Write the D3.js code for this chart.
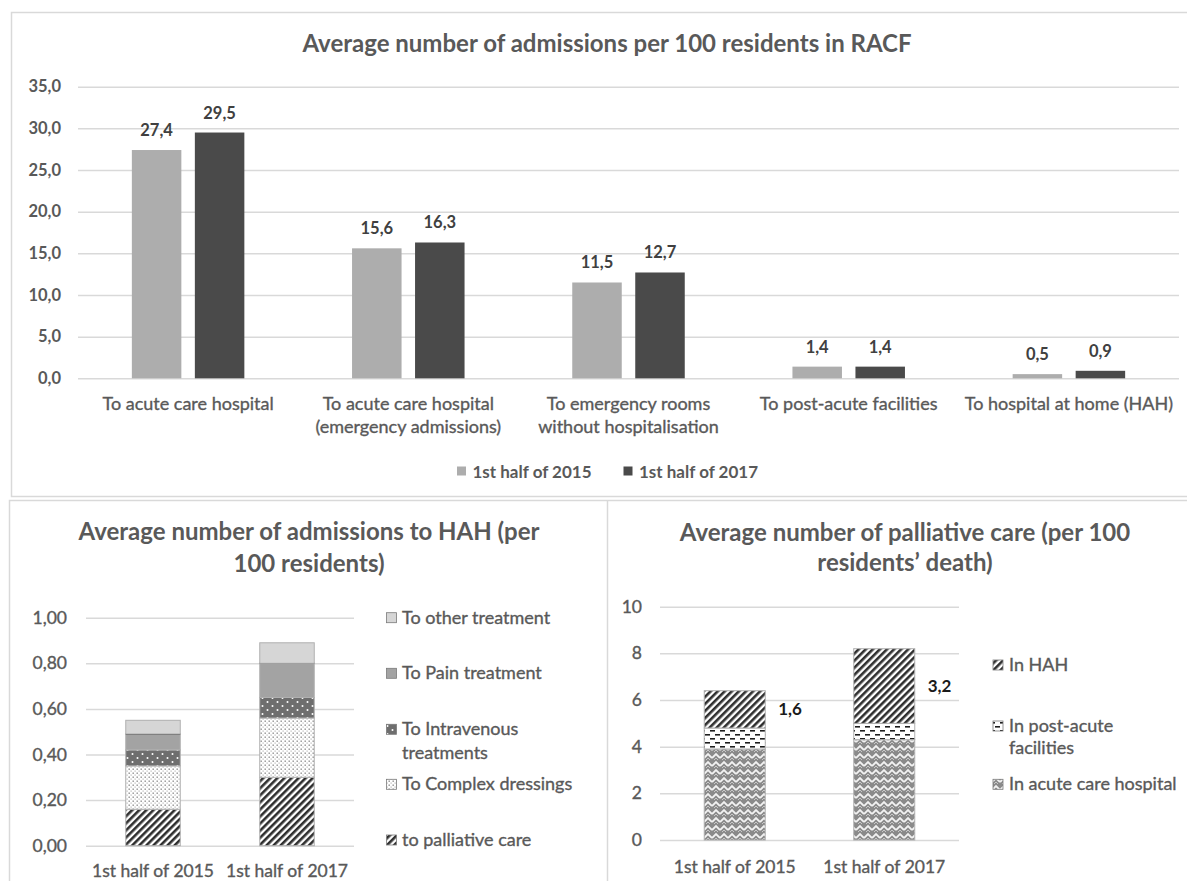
<!DOCTYPE html>
<html>
<head>
<meta charset="utf-8">
<script src="https://cdn.jsdelivr.net/npm/d3@7"></script>
<style>
  html, body { margin: 0; padding: 0; background: #ffffff; }
  svg { display: block; font-family: Lato, "Open Sans", "DejaVu Sans", sans-serif; }
</style>
</head>
<body>
<svg id="chart" width="1187" height="881"></svg>
<script>
// ---------------- DATA ----------------
const racfTitle = "Average number of admissions per 100 residents in RACF";
const racfCategories = [
  "To acute care hospital",
  "To acute care hospital\n(emergency admissions)",
  "To emergency rooms\nwithout hospitalisation",
  "To post-acute facilities",
  "To hospital at home (HAH)"
];
const racfSeries = ["1st half of 2015", "1st half of 2017"];
const racf2015 = [27.4, 15.6, 11.5, 1.4, 0.5];
const racf2017 = [29.5, 16.3, 12.7, 1.4, 0.9];
const racfTicks = [0, 5, 10, 15, 20, 25, 30, 35];

const hahTitle = "Average number of admissions to HAH (per\n100 residents)";
const hahPeriods = ["1st half of 2015", "1st half of 2017"];
const hahTypes = ["to palliative care", "To Complex dressings", "To Intravenous\ntreatments", "To Pain treatment", "To other treatment"];
const hahPalliative = [0.16, 0.30];
const hahDressings = [0.19, 0.26];
const hahIntravenous = [0.07, 0.09];
const hahPain = [0.07, 0.15];
const hahOther = [0.06, 0.09];
const hahTicks = [0, 0.2, 0.4, 0.6, 0.8, 1.0];

const palTitle = "Average number of palliative care (per 100\nresidents\u2019 death)";
const palPeriods = ["1st half of 2015", "1st half of 2017"];
const palPlaces = ["In acute care hospital", "In post-acute\nfacilities", "In HAH"];
const palAcute = [3.9, 4.3];
const palPostAcute = [0.9, 0.7];
const palHAH = [1.6, 3.2];
const palTicks = [0, 2, 4, 6, 8, 10];

// ---------------- SETUP ----------------
const locale = d3.formatLocale({decimal: ",", thousands: ".", grouping: [3], currency: ["", "\u20ac"]});
const f1 = locale.format(".1f"), f2 = locale.format(".2f"), f0 = locale.format("d");
const svg = d3.select("#chart");
const GRID = "#d9d9d9", TXT = "#595959";
const FONT = "Lato, 'Open Sans', sans-serif";

function multiline(sel, text, lh) {
  const lines = text.split("\n");
  sel.text(null);
  lines.forEach((l, i) => sel.append("tspan").attr("x", sel.attr("x")).attr("dy", i === 0 ? 0 : lh).text(l));
}
// slightly heavier regular text (Calibri-like rendering)
function heavy(sel, color) {
  return sel.attr("stroke", color).attr("stroke-width", 0.35);
}

// patterns
const defs = svg.append("defs");
function pat(id, w, h, bg, draw, transform) {
  const p = defs.append("pattern").attr("id", id).attr("patternUnits", "userSpaceOnUse")
    .attr("width", w).attr("height", h);
  if (transform) p.attr("patternTransform", transform);
  p.append("rect").attr("width", w).attr("height", h).attr("fill", bg);
  draw(p);
}
pat("pStripe", 5, 5, "#ffffff", p => p.append("rect").attr("width", 2.6).attr("height", 5).attr("fill", "#2e2e2e"), "rotate(45)");
pat("pDots", 4, 4, "#ffffff", p => {
  p.append("rect").attr("x", 0.5).attr("y", 0.5).attr("width", 1.4).attr("height", 1.4).attr("fill", "#8c8c8c");
  p.append("rect").attr("x", 2.5).attr("y", 2.5).attr("width", 1.2).attr("height", 1.2).attr("fill", "#b5b5b5");
});
pat("pIV", 10, 8, "#6e6e6e", p => {
  p.append("circle").attr("cx", 2.5).attr("cy", 2).attr("r", 1).attr("fill", "#ffffff");
  p.append("circle").attr("cx", 7.5).attr("cy", 6).attr("r", 1).attr("fill", "#ffffff");
});
pat("pDash", 10, 8, "#ffffff", p => {
  p.append("rect").attr("x", 0).attr("y", 2).attr("width", 5).attr("height", 1.6).attr("fill", "#1e1e1e");
  p.append("rect").attr("x", 5).attr("y", 6).attr("width", 5).attr("height", 1.6).attr("fill", "#1e1e1e");
});
pat("pWeave", 8, 8, "#8a8a8a", p => {
  p.append("path").attr("d", "M0,6 L4,2 L8,6").attr("fill", "none").attr("stroke", "#f2f2f2").attr("stroke-width", 1.8);
  p.append("path").attr("d", "M2,8 L4,6 M6,8 L4,6").attr("fill", "none").attr("stroke", "#c8c8c8").attr("stroke-width", 1);
});

// ---------------- PANEL BORDERS ----------------
svg.append("path").attr("d", "M1190,12.5 H11.5 V496.5 H1190").attr("fill", "none").attr("stroke", GRID).attr("stroke-width", 1.5);
svg.append("path").attr("d", "M9.5,885 V500.5 H1190").attr("fill", "none").attr("stroke", GRID).attr("stroke-width", 1.5);
svg.append("path").attr("d", "M607.5,500.5 V885").attr("fill", "none").attr("stroke", GRID).attr("stroke-width", 1.5);

// ---------------- TOP CHART ----------------
(function () {
  const x0 = d3.scaleBand().domain(racfCategories).range([78, 1179]);
  const y = d3.scaleLinear().domain([0, 35]).range([378.3, 86.7]);
  const barW = 49.5, off = 31.5;
  const g = svg.append("g");

  svg.append("text").attr("x", 607).attr("y", 51.5).attr("text-anchor", "middle")
    .attr("font-size", 24).attr("font-weight", 700).attr("fill", TXT).text(racfTitle);

  const ax = d3.axisLeft(y).tickValues(racfTicks).tickFormat(f1).tickSize(-(1179 - 78)).tickPadding(17);
  const ag = g.append("g").attr("transform", "translate(78,0)").call(ax);
  ag.select(".domain").remove();
  ag.selectAll("line").attr("stroke", GRID).attr("stroke-width", 1.5);
  ag.selectAll("text").attr("font-size", 16.5).attr("font-weight", 700).attr("fill", TXT).attr("font-family", FONT);

  const series = [racf2015, racf2017];
  const colors = ["#adadad", "#4a4a4a"];
  series.forEach((vals, s) => {
    const cx = c => x0(c) + x0.bandwidth() / 2 + (s === 0 ? -off : off);
    g.selectAll(null).data(racfCategories).enter().append("rect")
      .attr("x", c => cx(c) - barW / 2).attr("width", barW)
      .attr("y", (c, i) => y(vals[i])).attr("height", (c, i) => y(0) - y(vals[i]))
      .attr("fill", colors[s]);
    g.selectAll(null).data(racfCategories).enter().append("text")
      .attr("x", c => cx(c)).attr("y", (c, i) => y(vals[i]) - 14)
      .attr("text-anchor", "middle").attr("font-size", 16.5).attr("font-weight", 700).attr("fill", "#404040")
      .text((c, i) => f1(vals[i]));
  });

  racfCategories.forEach(c => {
    const t = g.append("text").attr("x", x0(c) + x0.bandwidth() / 2).attr("y", 410)
      .attr("text-anchor", "middle").attr("font-size", 18).attr("fill", TXT);
    heavy(t, TXT);
    multiline(t, c, 23);
  });

  // legend
  const lg = g.append("g");
  const lx = [457, 623.5];
  racfSeries.forEach((s, i) => {
    lg.append("rect").attr("x", lx[i]).attr("y", 466.5).attr("width", 9).attr("height", 9).attr("fill", colors[i]);
    lg.append("text").attr("x", lx[i] + 15.5).attr("y", 477.5).attr("font-size", 17).attr("font-weight", 700).attr("fill", TXT).text(s);
  });
})();

// ---------------- BOTTOM LEFT (HAH) ----------------
(function () {
  const g = svg.append("g");
  const t = g.append("text").attr("x", 309).attr("y", 540).attr("text-anchor", "middle")
    .attr("font-size", 24).attr("font-weight", 700).attr("fill", TXT);
  multiline(t, hahTitle, 31.5);

  const x = d3.scaleBand().domain(hahPeriods).range([86, 354]);
  const y = d3.scaleLinear().domain([0, 1]).range([845.7, 617.7]);
  const ax = d3.axisLeft(y).tickValues(hahTicks).tickFormat(f2).tickSize(-(354 - 86)).tickPadding(19);
  const ag = g.append("g").attr("transform", "translate(86,0)").call(ax);
  ag.select(".domain").remove();
  ag.selectAll("line").attr("stroke", GRID).attr("stroke-width", 1.5);
  heavy(ag.selectAll("text").attr("font-size", 17.5).attr("fill", TXT).attr("font-family", FONT), TXT);

  const rows = hahPeriods.map((p, i) => ({period: p, a: hahPalliative[i], b: hahDressings[i], c: hahIntravenous[i], d: hahPain[i], e: hahOther[i]}));
  const keys = ["a", "b", "c", "d", "e"];
  const fills = ["url(#pStripe)", "url(#pDots)", "url(#pIV)", "#a3a3a3", "#d6d6d6"];
  const stack = d3.stack().keys(keys)(rows);
  const bw = 54.5;
  stack.forEach((layer, k) => {
    g.selectAll(null).data(layer).enter().append("rect")
      .attr("x", d => x(d.data.period) + x.bandwidth() / 2 - bw / 2).attr("width", bw)
      .attr("y", d => y(d[1])).attr("height", d => y(d[0]) - y(d[1]))
      .attr("fill", fills[k]).attr("stroke", "#b0b0b0").attr("stroke-width", 1);
    if (keys[k] === "d") {
      g.selectAll(null).data(layer).enter().append("line")
        .attr("x1", d => x(d.data.period) + x.bandwidth() / 2 - bw / 2).attr("x2", d => x(d.data.period) + x.bandwidth() / 2 + bw / 2)
        .attr("y1", d => y(d[1])).attr("y2", d => y(d[1])).attr("stroke", "#3a3a3a").attr("stroke-width", 1.6);
    }
  });

  hahPeriods.forEach(p => {
    heavy(g.append("text").attr("x", x(p) + x.bandwidth() / 2).attr("y", 877).attr("text-anchor", "middle")
      .attr("font-size", 17.5).attr("fill", TXT).text(p), TXT);
  });

  // legend (reverse order)
  const ly = [617.7, 673.3, 729.3, 784.3, 840];
  const order = [4, 3, 2, 1, 0];
  order.forEach((k, i) => {
    g.append("rect").attr("x", 386.5).attr("y", ly[i] - 5).attr("width", 10).attr("height", 10)
      .attr("fill", fills[k]).attr("stroke", "#7a7a7a").attr("stroke-width", 0.8);
    const tt = g.append("text").attr("x", 402).attr("y", ly[i] + 6).attr("font-size", 18).attr("fill", TXT);
    heavy(tt, TXT);
    multiline(tt, hahTypes[k], 23.4);
  });
})();

// ---------------- BOTTOM RIGHT (palliative) ----------------
(function () {
  const g = svg.append("g");
  const t = g.append("text").attr("x", 905).attr("y", 541).attr("text-anchor", "middle")
    .attr("font-size", 24).attr("font-weight", 700).attr("fill", TXT);
  multiline(t, palTitle, 30);

  const x = d3.scaleBand().domain(palPeriods).range([660, 959]);
  const y = d3.scaleLinear().domain([0, 10]).range([840, 606.7]);
  const ax = d3.axisLeft(y).tickValues(palTicks).tickFormat(f0).tickSize(-(959 - 660)).tickPadding(18);
  const ag = g.append("g").attr("transform", "translate(660,0)").call(ax);
  ag.select(".domain").remove();
  ag.selectAll("line").attr("stroke", GRID).attr("stroke-width", 1.5);
  heavy(ag.selectAll("text").attr("font-size", 17.5).attr("fill", TXT).attr("font-family", FONT), TXT);

  const rows = palPeriods.map((p, i) => ({period: p, a: palAcute[i], b: palPostAcute[i], c: palHAH[i]}));
  const keys = ["a", "b", "c"];
  const fills = ["url(#pWeave)", "url(#pDash)", "url(#pStripe)"];
  const stack = d3.stack().keys(keys)(rows);
  const bw = 61;
  stack.forEach((layer, k) => {
    g.selectAll(null).data(layer).enter().append("rect")
      .attr("x", d => x(d.data.period) + x.bandwidth() / 2 - bw / 2).attr("width", bw)
      .attr("y", d => y(d[1])).attr("height", d => y(d[0]) - y(d[1]))
      .attr("fill", fills[k]).attr("stroke", "#b0b0b0").attr("stroke-width", 1);
  });
  // data labels on HAH
  g.selectAll(null).data(stack[2]).enter().append("text")
    .attr("x", d => x(d.data.period) + x.bandwidth() / 2 + bw / 2 + 13)
    .attr("y", d => (y(d[0]) + y(d[1])) / 2 + 6)
    .attr("font-size", 17).attr("font-weight", 700).attr("fill", "#1a1a1a")
    .text((d, i) => f1(palHAH[i]));

  palPeriods.forEach(p => {
    heavy(g.append("text").attr("x", x(p) + x.bandwidth() / 2).attr("y", 873).attr("text-anchor", "middle")
      .attr("font-size", 17.5).attr("fill", TXT).text(p), TXT);
  });

  const ly = [665, 726, 784.3];
  const order = [2, 1, 0];
  order.forEach((k, i) => {
    g.append("rect").attr("x", 993).attr("y", ly[i] - 5).attr("width", 10).attr("height", 10)
      .attr("fill", fills[k]).attr("stroke", "#7a7a7a").attr("stroke-width", 0.8);
    const tt = g.append("text").attr("x", 1009).attr("y", ly[i] + 6).attr("font-size", 18).attr("fill", TXT);
    heavy(tt, TXT);
    multiline(tt, palPlaces[k], 22.3);
  });
})();
</script>
</body>
</html>
